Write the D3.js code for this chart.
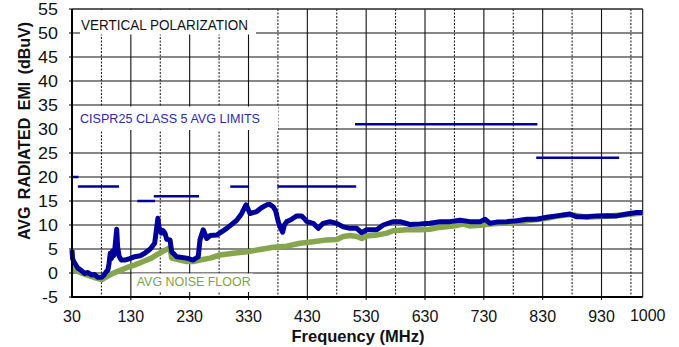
<!DOCTYPE html>
<html><head><meta charset="utf-8">
<script src="https://cdn.jsdelivr.net/npm/d3@7"></script>
<style>html,body{margin:0;padding:0;background:#fff;overflow:hidden}</style>
</head><body><svg id="c" width="679" height="347"></svg>
<script>
// ---- data ----
const freqBlue = [30,31,33,40,45,51.5,57,63,68,74,80,84,88.4,91,93,95,97,99,101,102.6,104,106,107.5,110,113.8,119.6,128,136.6,146,153.6,163,170.5,173,176,178,181.8,185,188,191,196.6,199.5,208,225,236,244.6,247.5,253,259,265,276,293,310,318,324,326,332.5,344,352,361,366,372,376,380.6,384,388,391,395,402,412,420,426,429,440,448.5,457,468.5,480,491,502.5,514,522,531,548,559,576,587.5,604.5,621.5,638.5,655.5,672.5,689.5,706.5,723.5,732,740.5,752,769,786,803,820,837,854,876,888,905,922,939,956,973,990,1000];
const emiBlue = [4.8,3.0,2.4,1.0,0.6,-0.1,0.1,-0.4,-0.3,-0.9,-0.9,-0.5,0.3,0.6,2.0,4.1,3.0,4.6,3.6,4.8,6.5,9.1,5.5,3.5,2.7,2.7,3.0,3.4,3.6,4.1,5.0,6.2,8.5,11.4,9.5,8.3,8.8,8.3,7.0,6.9,4.4,3.4,3.1,2.7,3.4,6.9,9.0,7.2,7.8,7.9,9.3,11.0,12.3,13.8,14.2,12.4,12.8,13.6,14.2,14.3,13.8,13.0,10.7,9.5,8.5,10.0,10.7,11.1,11.9,11.9,11.2,10.7,10.35,9.3,10.35,10.7,10.35,9.6,9.3,9.3,8.4,9.0,9.0,10.0,10.7,10.7,10.1,10.2,10.35,10.7,10.7,11.0,10.7,10.7,11.2,10.35,10.6,10.7,10.9,11.2,11.2,11.6,11.9,12.3,11.7,11.7,11.9,11.95,11.9,12.3,12.6,12.6];
const freqNoise = [30,40,50,60,70,80.5,90,100,111,123,137,151,165,174,186,196.5,199.5,210,225,236,247.5,264.5,281.5,304,327,349.5,372,395,417.5,440,463,480,491,502.5,514,522.5,531,548,565,576,599,621,638,655,678,695,706,729,740,769,803,837,854,876,905,939,973,1000];
const noiseFloor = [1.0,0.3,-0.2,-0.6,-1.0,-1.4,-0.7,-0.05,0.5,1.1,1.7,2.4,3.1,3.8,4.6,5.3,3.1,2.8,2.4,2.4,2.7,3.1,3.75,4.1,4.4,4.9,5.35,5.6,6.2,6.5,6.9,7.0,7.6,7.8,7.6,7.2,7.7,7.9,8.3,8.8,9.0,9.0,9.1,9.5,9.8,10.2,9.8,10.0,10.2,10.4,10.9,11.4,11.8,12.2,11.6,11.8,12.2,12.5];
const limitStart = [30,40,141,169,299,379,511,819];
const limitEnd   = [41,110,171,246,331,513,821,960];
const limitLevel = [20,18,15,16,18,18,31,24];
const xTickLabels = [30,130,230,330,430,530,630,730,830,930,1000];
const yTickLabels = [-5,0,5,10,15,20,25,30,35,40,45,50,55];
const majorGridX = [130,230,330,430,530,630,730,830,930,1000];
const minorGridX = [80,180,280,380,480,580,680,780,880,980];

// ---- chart ----
const svg = d3.select('#c');
const x = d3.scaleLinear().domain([30,1000]).range([72,642.7]);
const y = d3.scaleLinear().domain([-5,55]).range([297,9]);
const font = 'Arial, "Liberation Sans", sans-serif';

const grid = svg.append('g');
grid.selectAll('.h').data(yTickLabels.filter(d=>d>-5)).join('line')
  .attr('x1',x(30)).attr('x2',x(1000)).attr('y1',d=>y(d)).attr('y2',d=>y(d))
  .attr('stroke','#111').attr('stroke-width',1.1);
grid.selectAll('.vm').data(majorGridX).join('line')
  .attr('x1',d=>x(d)).attr('x2',d=>x(d)).attr('y1',y(55)).attr('y2',y(-5))
  .attr('stroke','#111').attr('stroke-width',1.1);
grid.selectAll('.vn').data(minorGridX).join('line')
  .attr('x1',d=>x(d)).attr('x2',d=>x(d)).attr('y1',y(55)).attr('y2',y(-5))
  .attr('stroke','#111').attr('stroke-width',1).attr('stroke-dasharray','2,1.5');

// annotation boxes (white backgrounds)
const boxes = [[80,10,176,24.5],[73,106.5,205,23.5],[132,273.5,121,18.5]];
svg.selectAll('.box').data(boxes).join('rect')
  .attr('x',d=>d[0]).attr('y',d=>d[1]).attr('width',d=>d[2]).attr('height',d=>d[3]).attr('fill','#fff');

svg.append('text').attr('x',81).attr('y',30).attr('font-family',font).attr('font-size',14)
  .attr('textLength',167).attr('lengthAdjust','spacingAndGlyphs').attr('fill','#111').text('VERTICAL POLARIZATION');
svg.append('text').attr('x',80).attr('y',122.7).attr('font-family',font).attr('font-size',12)
  .attr('textLength',180).attr('lengthAdjust','spacingAndGlyphs').attr('fill','#2a2aa8').text('CISPR25 CLASS 5 AVG LIMITS');
svg.append('text').attr('x',136.7).attr('y',285.5).attr('font-family',font).attr('font-size',12)
  .attr('textLength',114).attr('lengthAdjust','spacingAndGlyphs').attr('fill','#7f9f4a').text('AVG NOISE FLOOR');

// traces
const line = d3.line().x(d=>x(d[0])).y(d=>y(d[1]));
svg.append('path').datum(freqNoise.map((f,i)=>[f,noiseFloor[i]]))
  .attr('d',line).attr('fill','none').attr('stroke','#86a64e').attr('stroke-width',5.5)
  .attr('stroke-linejoin','round').attr('stroke-linecap','butt');
svg.append('path').datum(freqBlue.map((f,i)=>[f,emiBlue[i]]))
  .attr('d',line).attr('fill','none').attr('stroke','#00009a').attr('stroke-width',5)
  .attr('stroke-linejoin','round').attr('stroke-linecap','butt');

// limit lines
svg.selectAll('.lim').data(limitLevel).join('line')
  .attr('x1',(d,i)=>x(limitStart[i])).attr('x2',(d,i)=>x(limitEnd[i]))
  .attr('y1',d=>y(d)).attr('y2',d=>y(d))
  .attr('stroke','#00009a').attr('stroke-width',2.5);

// frame / axes
svg.append('line').attr('x1',x(30)).attr('x2',x(1000)).attr('y1',y(55)).attr('y2',y(55)).attr('stroke','#333').attr('stroke-width',1);
svg.append('line').attr('x1',x(30)).attr('x2',x(30)).attr('y1',y(55)).attr('y2',y(-5)+1).attr('stroke','#000').attr('stroke-width',2);
svg.append('line').attr('x1',x(30)-1).attr('x2',x(1000)).attr('y1',y(-5)).attr('y2',y(-5)).attr('stroke','#000').attr('stroke-width',2);

// tick marks
svg.selectAll('.xt').data(majorGridX.slice(0,-1)).join('line')
  .attr('x1',d=>x(d)).attr('x2',d=>x(d)).attr('y1',y(-5)).attr('y2',y(-5)+3).attr('stroke','#000');
svg.selectAll('.yt').data(yTickLabels).join('line')
  .attr('x1',x(30)-3).attr('x2',x(30)).attr('y1',d=>y(d)).attr('y2',d=>y(d)).attr('stroke','#000');

// tick labels
svg.selectAll('.xl').data(xTickLabels).join('text')
  .attr('x',d=>x(d)+(d===1000?5:0)).attr('y',d=>d===1000?321:322)
  .attr('text-anchor','middle').attr('font-family',font).attr('font-size',16).attr('fill','#111').text(d=>d);
svg.selectAll('.yl').data(yTickLabels).join('g')
  .attr('transform',d=>`translate(58,${y(d)}) scale(1.12,1)`)
  .append('text').attr('text-anchor','end').attr('dy','0.36em')
  .attr('font-family',font).attr('font-size',16).attr('fill','#111').text(d=>d);

// axis titles
svg.append('text').attr('x',358).attr('y',342).attr('text-anchor','middle')
  .attr('font-family',font).attr('font-size',16.5).attr('font-weight','bold').attr('fill','#111').text('Frequency (MHz)');
svg.append('text').attr('transform','translate(30,131) rotate(-90)').attr('text-anchor','middle')
  .attr('font-family',font).attr('font-size',16).attr('font-weight','bold').attr('word-spacing',3)
  .attr('fill','#111').text('AVG RADIATED EMI (dBuV)');
</script></body></html>
